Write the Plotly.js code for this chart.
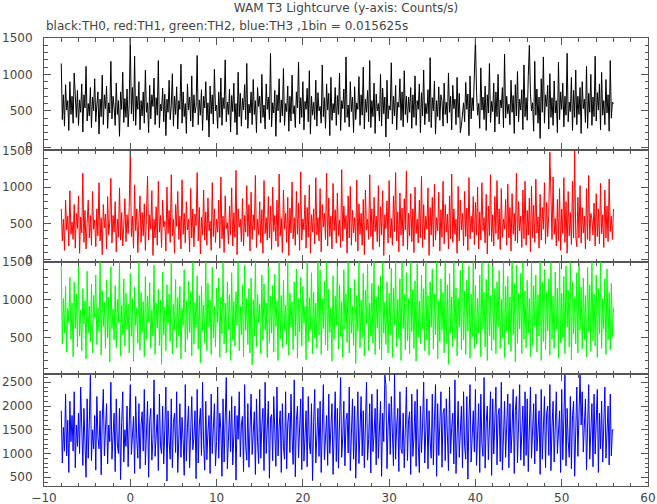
<!DOCTYPE html>
<html>
<head>
<meta charset="utf-8">
<script src="https://cdn.plot.ly/plotly-3.0.1.min.js"></script>
<style>html,body{margin:0;padding:0;background:#fff}#chart{width:657px;height:504px}</style>
</head>
<body>
<div id="chart"></div>
<script>
// Time grid: curves start at -8 s, values read every 0.125 s along the curve
const tStart = -8;
const tStep = 0.125;

const titleText = 'WAM T3 Lightcurve (y-axis: Counts/s)';
const subtitleText = 'black:TH0, red:TH1, green:TH2, blue:TH3 ,1bin = 0.015625s';
const xTickVals = [-10, 0, 10, 20, 30, 40, 50, 60];

// TH0 (black)
const th0 = [
1150,380,720,290,860,510,640,230,900,450,700,330,1020,560,410,780,
300,650,480,870,210,720,540,1110,360,600,430,820,270,690,500,940,
350,580,760,180,660,420,990,310,720,530,840,260,610,470,1180,390,
700,550,300,880,450,640,150,760,520,1030,340,670,410,800,280,590,
1500,460,820,360,1250,300,700,520,900,240,640,430,760,330,1060,480,
610,200,850,390,720,560,950,310,680,440,1190,270,590,500,810,350,
730,160,660,480,920,380,570,1010,290,700,450,830,250,640,520,1140,
330,760,420,600,190,870,510,690,360,980,280,720,470,560,1260,310,
650,440,790,230,700,540,900,370,610,140,840,460,720,320,1070,500,
580,260,760,410,950,300,680,530,1200,350,620,450,800,210,710,490,
880,340,600,170,1030,420,740,290,670,510,860,380,1150,260,590,470,
760,310,930,450,640,200,820,560,700,330,1000,410,580,250,870,520,
690,380,1290,280,610,470,780,150,720,500,940,340,650,430,1080,300,
600,490,840,220,700,360,990,460,570,270,760,540,1170,320,680,410,
900,240,630,520,810,350,1050,180,700,440,620,380,920,290,750,500,
560,330,1130,420,680,260,870,510,740,160,960,370,600,470,820,300,
710,450,1020,230,640,530,800,340,1240,410,580,280,900,490,690,200,
830,380,610,520,970,300,720,440,1100,250,660,480,780,350,1190,270,
640,420,880,190,730,500,600,360,1000,290,810,460,690,140,920,390,
570,510,1160,320,700,430,850,240,620,550,940,370,760,280,1050,450,
700,340,690,480,820,260,720,410,980,300,640,520,870,200,750,430,
1060,310,600,460,790,350,1230,270,680,500,910,180,640,420,830,370,
720,640,290,880,450,620,330,1020,480,700,240,850,530,660,310,960,
410,740,200,300,470,610,350,890,520,730,160,980,390,680,500,1210,
1490,770,440,600,260,1090,510,690,380,840,230,720,470,1150,340,630,
490,880,210,760,420,1000,320,650,540,820,270,1280,400,700,460,590,
310,920,480,710,190,860,430,1040,350,660,510,790,240,1130,420,680,
370,970,1400,740,500,610,220,1180,440,800,330,690,120,940,480,1240,
330,720,560,850,250,1010,410,680,300,910,470,640,200,1170,380,760,
520,880,280,700,440,1290,350,620,490,960,230,780,410,1060,310,700,
450,820,190,900,530,660,340,1110,260,740,480,1000,300,690,420,1250,
360,750,510,870,240,1030,440,640,310,930,470,720,220,1190,400,620,
600
];

// TH1 (red)
const th1 = [
700,260,560,130,820,410,600,190,950,350,520,280,760,160,640,430,
880,90,590,370,1190,240,680,150,500,820,300,610,200,940,420,550,
180,700,330,1060,260,580,70,760,440,630,150,870,340,520,1120,230,
610,380,800,110,560,310,990,270,650,190,480,840,250,620,360,720,
1510,320,600,160,1030,400,700,100,540,880,240,650,330,770,130,590,
1150,270,620,420,950,60,560,300,730,200,1080,380,610,170,820,450,
530,120,1000,360,680,240,1170,330,560,90,760,460,940,280,600,150,
1100,350,640,230,800,410,560,110,980,300,700,180,630,470,1200,260,
720,80,590,340,960,270,660,200,850,400,530,130,1060,320,700,240,
560,380,820,160,1140,290,600,100,880,430,510,220,740,340,990,190,
650,310,1230,70,700,450,560,250,840,190,610,380,1020,320,760,120,
930,280,620,410,1160,170,560,340,800,230,690,90,1090,360,580,270,
870,300,740,140,1000,390,610,260,820,180,1180,330,570,100,960,420,
640,240,860,60,710,370,1070,290,580,200,940,350,780,130,1210,270,
560,410,890,160,720,310,1030,90,620,380,700,220,1130,340,580,260,
980,110,760,450,640,280,1190,190,850,320,600,150,1050,400,690,230,
920,330,550,170,1240,260,740,420,610,90,880,300,1010,200,680,370,
580,250,1100,120,770,350,640,200,830,70,960,410,560,280,1170,320,
700,140,860,390,600,250,1020,180,730,340,950,60,620,430,810,230,
1090,300,570,200,880,390,1200,260,660,110,920,340,710,190,840,410,
1220,140,640,330,910,250,700,100,1000,360,560,230,820,300,1150,170,
760,280,600,420,990,60,720,340,860,180,1040,270,580,400,930,120,
690,310,1080,220,760,380,630,150,880,290,1180,240,700,350,560,90,
1010,260,820,410,640,190,940,320,710,130,1130,290,600,380,870,210,
790,340,1000,150,660,270,1060,400,580,230,900,80,740,330,1170,250,
620,190,870,360,1090,280,700,140,980,310,560,420,830,200,1040,300,
720,120,910,350,640,260,1190,230,800,400,600,170,960,290,1080,200,
680,340,850,110,1010,300,750,240,1110,370,590,160,900,270,720,420,
1060,220,790,320,620,1480,960,280,1140,350,570,190,830,260,980,130,
700,360,1130,240,800,90,940,330,650,210,1080,300,1500,330,180,860,
300,1020,230,720,370,600,150,980,280,1160,260,640,560,340,780,190,
910,320,700,220,1050,360,620,170,960,300,740,250,1110,390,600,280,
700
];

// TH2 (green)
const th2 = [
1450,420,1020,560,1180,310,890,700,1300,480,960,250,1240,620,1080,380,
1500,520,870,330,1150,680,990,220,1380,560,920,450,1210,300,1060,760,
1330,410,900,580,1500,270,1120,650,970,360,1260,500,1040,180,1440,620,
880,470,1190,370,1010,700,1500,260,930,540,1280,390,1090,610,950,300,
1350,520,1020,190,1170,660,900,430,1500,340,1100,570,980,250,1310,480,
1050,710,1230,360,870,520,1460,280,960,630,1140,400,1000,150,1370,540,
910,330,1200,680,1080,450,1500,290,940,600,1270,370,1030,520,1180,220,
890,660,1400,310,990,480,1250,570,1110,260,1500,420,970,640,1320,350,
1060,170,1180,590,930,430,1500,330,1220,640,1000,280,1430,500,920,380,
1160,700,1290,240,1040,550,1500,420,960,300,1240,610,1070,200,1360,470,
980,390,1110,660,1500,330,920,540,1200,250,1460,600,1020,410,1150,300,
1290,140,1000,520,1500,380,1070,700,940,290,1330,470,1210,600,960,240,
1480,430,1050,560,1190,310,1340,650,990,200,1500,480,1060,370,1260,590,
930,410,1500,270,1090,640,980,340,1240,520,1410,230,1020,580,1300,390,
1180,690,920,210,1500,450,1030,600,1360,290,1100,500,960,360,1500,540,
1390,280,1020,620,1250,410,1500,330,1140,570,900,190,1320,480,1050,660,
1500,350,1200,520,980,240,1400,610,1080,440,1500,300,1160,560,920,400,
1270,160,1060,590,1500,370,1000,500,1350,260,1130,680,1470,330,960,520,
1220,430,1500,280,1040,630,1190,350,1310,210,1500,560,970,410,1240,300,
1090,540,1420,240,1160,670,1500,380,1010,490,1280,200,1500,620,1070,340,
1360,460,1020,290,1500,580,1140,360,1250,190,1480,510,990,420,1330,610,
1150,330,1500,470,1060,270,1240,640,1410,350,1080,540,1500,220,1000,450,
1280,600,1100,300,1500,420,1200,150,1350,560,1040,380,1500,490,1160,260,
1030,640,1390,340,1500,470,1120,280,1260,590,1450,230,1080,510,1500,360,
1190,420,1020,560,1330,250,1500,610,1100,380,1270,200,1480,530,1060,330,
1500,470,1150,290,1240,640,1390,360,1010,500,1500,240,1180,580,1310,410,
1040,320,1500,540,1220,180,1460,430,1090,620,1350,290,1500,480,1120,370,
1260,560,1020,250,1500,400,1190,650,1330,310,1070,520,1500,200,1240,450,
1400,340,1110,590,1280,270,1500,480,1050,360,1370,610,1160,230,1500,430,
1090,500,1310,290,1450,640,1130,380,1500,210,1240,550,1040,420,1360,300,
1500,600,1170,350,1290,470,1060,250,1430,580,1200,320,1500,460,1080,390,
1330,240,1150,550,1500,360,1020,620,1280,280,1410,470,1100,340,1220,510,
900
];

// TH3 (blue)
const th3 = [
1900,800,1550,1050,2250,950,1700,600,2100,1250,1800,1050,2300,700,1600,1150,
1850,1000,2400,1300,750,1950,1200,500,2150,900,1650,2650,850,1500,1100,1800,
650,2200,1350,1100,1900,550,1700,2350,950,1450,2050,780,1600,1250,2500,880,
1400,1850,620,2150,1200,1000,1950,450,1650,2300,820,1500,1150,2000,720,1750,
2450,980,1550,1780,580,2200,1300,900,2050,680,1600,1880,1050,2350,760,1450,
2100,500,1700,1950,860,1300,2550,940,1600,1820,640,2250,1150,1000,2000,780,
1500,2400,420,1900,1250,880,2150,700,1650,1850,1020,2300,600,1400,2050,920,
1760,1300,540,2450,840,1550,2000,700,1700,2200,1080,1350,1900,470,2350,800,
1600,1950,960,2500,1200,650,2100,870,1450,1800,580,2250,1000,1650,2050,740,
1250,2400,900,1850,1500,520,2150,820,1700,2600,680,1400,1900,1040,2200,760,
1550,2000,440,1800,1300,2300,930,1600,1780,620,2450,1150,860,2050,710,1700,
2250,980,1400,1880,560,2150,1250,790,2350,900,1600,1950,640,2500,1000,1450,
2100,480,1750,1820,850,2200,1300,730,2400,950,1550,1900,600,2050,1150,880,
2300,680,1650,1850,1020,2250,1350,770,2550,510,1700,2000,910,1500,2150,660,
2400,840,1450,1900,720,2200,1200,990,2050,430,1650,2350,800,1550,1950,940,
2100,600,1700,2450,870,1400,1800,750,2250,1000,1500,2050,560,1850,2300,830,
1950,690,1550,2600,920,1350,2100,740,1700,1850,1010,2400,640,1450,2150,880,
2000,480,1750,2300,790,1500,2200,950,1900,700,1600,2500,860,1300,2050,590,
2250,1040,1400,1950,760,2350,900,1650,2100,520,1850,1250,2650,2450,680,1550,
2050,980,2200,1450,740,2700,880,1600,1950,620,2300,1100,1000,1850,700,1500,
2400,850,1700,1880,560,2250,940,1350,2100,730,2350,1200,600,2000,1020,1600,
2500,800,1450,2150,680,1900,1250,900,2250,760,1700,2450,520,2050,960,1500,
2300,710,1850,1950,850,2150,1300,640,2400,1000,1550,1850,780,2550,580,1650,
2100,920,1400,2000,700,2300,1150,880,2200,460,1750,2450,820,1600,1900,1030,
2350,750,1500,2050,600,2250,1200,940,2600,690,1650,2000,870,1450,2300,540,
2150,990,1550,2400,760,1800,1950,830,2500,650,1350,2100,920,1700,2250,700,
2050,1010,1500,2350,580,1900,2200,800,1450,2450,860,1600,2000,740,2300,960,
2150,620,1750,2400,900,1400,2050,780,2250,1050,1600,1900,560,2350,880,1500,
2200,700,1850,2000,960,2450,640,1550,2100,820,1700,2300,1000,1450,1900,600,
2350,870,1650,2650,740,1950,1250,920,2200,680,1800,2100,520,1500,2400,940,
2000,2650,1600,2300,1030,1450,2150,660,1900,2450,880,1350,2050,720,2250,990,
1700,2350,600,1850,1100,2100,820,1550,2400,900,1650,2000,760,2250,950,1500,
1500
];

const series = [
  {y: th0, color: '#000000', xa: 'x',  ya: 'y'},
  {y: th1, color: '#ff0000', xa: 'x2', ya: 'y2'},
  {y: th2, color: '#00ff00', xa: 'x3', ya: 'y3'},
  {y: th3, color: '#0000ff', xa: 'x4', ya: 'y4'}
];

const traces = series.map(s => ({
  type: 'scatter',
  mode: 'lines',
  x: s.y.map((_, i) => tStart + i * tStep),
  y: s.y,
  xaxis: s.xa,
  yaxis: s.ya,
  line: {color: s.color, width: 1},
  hoverinfo: 'skip',
  showlegend: false
}));

const fontBase = {family: 'DejaVu Sans, sans-serif', size: 12, color: '#444'};
const axisCol = '#555';

function xAx(anchor, showLabels) {
  return {
    range: [-10, 60], anchor: anchor,
    tickvals: xTickVals, ticks: 'inside', ticklen: 7, tickwidth: 1, tickcolor: axisCol,
    minor: {dtick: 2, tick0: 0, ticks: 'inside', ticklen: 3.5, tickcolor: axisCol, showgrid: false},
    showline: true, linecolor: axisCol, linewidth: 1, mirror: 'ticks',
    showgrid: false, zeroline: false, showticklabels: showLabels,
    tickfont: fontBase, ticklabelstandoff: 1, automargin: false
  };
}
function yAx(range, domain, anchor) {
  return {
    range: range, domain: domain, anchor: anchor,
    dtick: 500, tick0: 0, ticks: 'inside', ticklen: 7, tickwidth: 1, tickcolor: axisCol,
    minor: {dtick: 100, tick0: 0, ticks: 'inside', ticklen: 3.5, tickcolor: axisCol, showgrid: false},
    showline: true, linecolor: axisCol, linewidth: 1, mirror: 'ticks',
    showgrid: false, zeroline: false, tickfont: fontBase, ticklabelstandoff: 8, automargin: false
  };
}

const layout = {
  width: 657, height: 504,
  margin: {l: 44, r: 9, t: 38, b: 18},
  paper_bgcolor: '#fff', plot_bgcolor: '#fff',
  font: fontBase,
  showlegend: false,
  title: {
    text: titleText, font: fontBase,
    xref: 'paper', x: 0.5, xanchor: 'center',
    yref: 'container', y: 1 - 8 / 504, yanchor: 'middle'
  },
  xaxis:  xAx('y', false),
  xaxis2: xAx('y2', false),
  xaxis3: xAx('y3', false),
  xaxis4: xAx('y4', true),
  yaxis:  yAx([-38, 1500], [0.75, 1], 'x'),
  yaxis2: yAx([-30, 1510], [0.5, 0.75], 'x2'),
  yaxis3: yAx([22, 1502], [0.25, 0.5], 'x3'),
  yaxis4: yAx([316, 2674], [0, 0.25], 'x4'),
  annotations: [{
    text: subtitleText, xref: 'paper', yref: 'paper',
    x: 0, xanchor: 'left', y: 1 + 12 / 448, yanchor: 'middle',
    showarrow: false, font: fontBase
  }]
};

Plotly.newPlot('chart', traces, layout, {staticPlot: true, displayModeBar: false});
</script>
</body>
</html>
